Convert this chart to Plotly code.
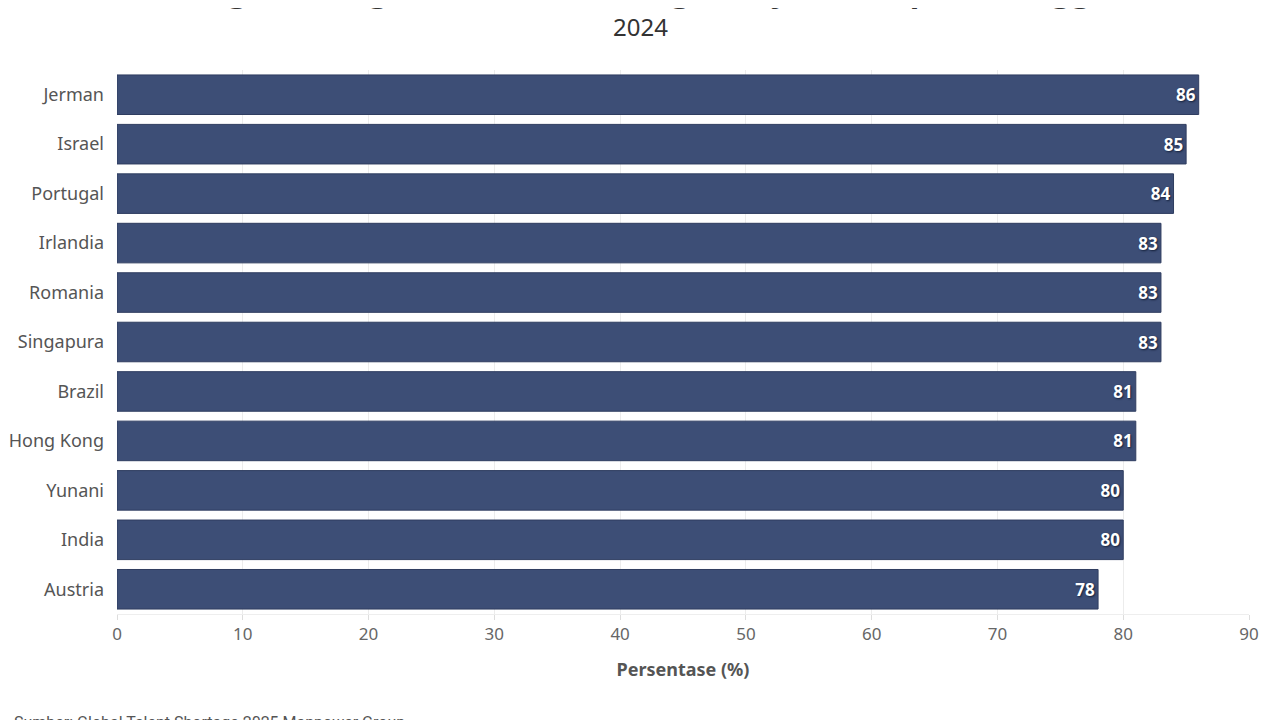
import plotly.graph_objects as go

countries = ["Jerman", "Israel", "Portugal", "Irlandia", "Romania", "Singapura",
             "Brazil", "Hong Kong", "Yunani", "India", "Austria"]
values = [86, 85, 84, 83, 83, 83, 81, 81, 80, 80, 78]
x_ticks = [0, 10, 20, 30, 40, 50, 60, 70, 80, 90]

title_text = "Negara dengan Kesulitan Tenaga Kerja Terampil Tertinggi"
subtitle_text = "2024"
x_title = "Persentase (%)"
source_text = "Sumber: Global Talent Shortage 2025 Manpower Group"

bar_color = "#3d4e76"

# page body has an 8px margin; compensate so the plot area lands at the reference position
PLOT_L, PLOT_T, PLOT_W, PLOT_H = 117, 70, 1132, 544


def px_x(px):
    return (px - PLOT_L) / PLOT_W


def px_y(py):
    return 1 - (py - PLOT_T) / PLOT_H


fig = go.Figure(go.Bar(
    x=values, y=countries, orientation="h",
    marker=dict(color=bar_color, line=dict(color="#2f3d60", width=1)),
    text=[str(v) for v in values], textposition="inside", insidetextanchor="end",
    textfont=dict(family="Noto Sans", size=17, color="white", weight="bold",
                  shadow="1px 1px 2px #14203a"),
    cliponaxis=False, hoverinfo="skip",
))

fig.update_layout(
    width=1272, height=712,
    margin=dict(l=109, r=31, t=62, b=106, autoexpand=False),
    plot_bgcolor="white", paper_bgcolor="white",
    bargap=0.2, showlegend=False,
    font=dict(family="Noto Sans", color="#555555"),
    xaxis=dict(range=[0, 90], tickvals=x_ticks, showgrid=True, gridcolor="#ececec",
               gridwidth=1, zeroline=False, showline=True, linecolor="#eeeeee",
               ticks="outside", ticklen=5, tickcolor="#dddddd", automargin=False,
               tickfont=dict(size=17, color="#666666"),
               title=dict(text=x_title, font=dict(size=18, color="#555555", weight="bold"),
                          standoff=18)),
    yaxis=dict(autorange="reversed", showgrid=False, zeroline=False, automargin=False,
               ticks="", ticklabelstandoff=12,
               tickfont=dict(size=18, color="#555555")),
    annotations=[
        dict(text="<b>" + title_text + "</b>", xref="paper", yref="paper",
             x=px_x(642), y=px_y(12), xanchor="center", yanchor="bottom", showarrow=False,
             font=dict(size=32, color="#333333", family="Noto Sans")),
        dict(text=subtitle_text, xref="paper", yref="paper",
             x=px_x(640), y=px_y(27), xanchor="center",
             yanchor="middle", showarrow=False,
             font=dict(size=24, color="#333333", family="Noto Sans")),
        dict(text=source_text, xref="paper", yref="paper",
             x=px_x(12), y=px_y(711), xanchor="left", yanchor="top",
             showarrow=False, font=dict(size=16, color="#555555", family="Roboto")),
    ],
)

fig.write_html("out.html")
